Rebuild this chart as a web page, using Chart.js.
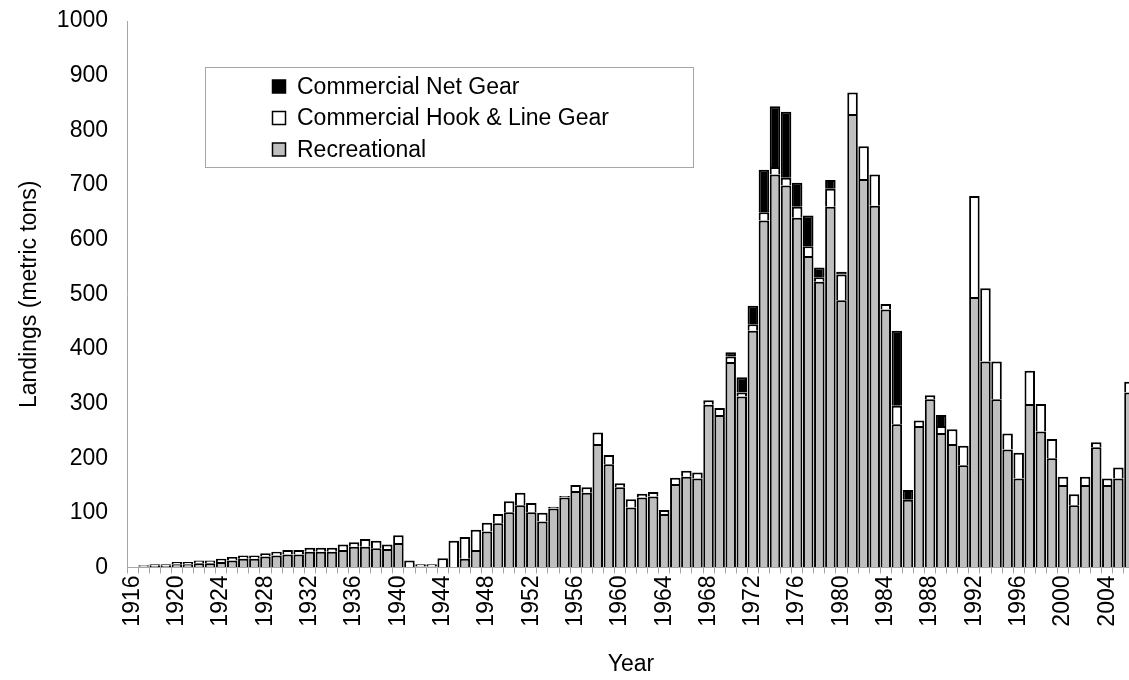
<!DOCTYPE html>
<html>
<head>
<meta charset="utf-8">
<script src="https://cdn.jsdelivr.net/npm/chart.js@4.4.1/dist/chart.umd.min.js"></script>
<style>
  html, body { margin: 0; padding: 0; background: #fff; overflow: hidden; }
  #wrap { width: 1129px; height: 680px; overflow: hidden; }
  canvas { display: block; }
</style>
</head>
<body>
<div id="wrap"><canvas id="landings" width="1135" height="680"></canvas></div>
<script>
// landings by year, metric tons
const years = [
  1916, 1917, 1918, 1919, 1920, 1921, 1922, 1923, 1924, 1925,
  1926, 1927, 1928, 1929, 1930, 1931, 1932, 1933, 1934, 1935,
  1936, 1937, 1938, 1939, 1940, 1941, 1942, 1943, 1944, 1945,
  1946, 1947, 1948, 1949, 1950, 1951, 1952, 1953, 1954, 1955,
  1956, 1957, 1958, 1959, 1960, 1961, 1962, 1963, 1964, 1965,
  1966, 1967, 1968, 1969, 1970, 1971, 1972, 1973, 1974, 1975,
  1976, 1977, 1978, 1979, 1980, 1981, 1982, 1983, 1984, 1985,
  1986, 1987, 1988, 1989, 1990, 1991, 1992, 1993, 1994, 1995,
  1996, 1997, 1998, 1999, 2000, 2001, 2002, 2003, 2004, 2005,
  2006
];

const recreational = [
  0, 2, 3, 3, 6, 6, 8, 8, 10, 13,
  16, 16, 20, 22, 24, 24, 29, 29, 29, 32,
  38, 38, 35, 34, 45, 0, 2, 2, 0, 0,
  16, 32, 66, 81, 101, 114, 101, 84, 108, 128,
  140, 137, 226, 189, 147, 110, 128, 130, 98, 153,
  166, 163, 298, 279, 376, 313, 433, 635, 719, 699,
  640, 570, 523, 660, 489, 830, 711, 662, 472, 262,
  124, 259, 308, 246, 226, 187, 495, 377, 308, 216,
  163, 299, 249, 200, 151, 114, 151, 220, 151, 163,
  320
];

const hookLine = [
  0, 2, 3, 3, 4, 4, 5, 5, 6, 6,
  6, 6, 6, 7, 8, 8, 7, 7, 7, 10,
  8, 14, 14, 8, 14, 13, 4, 4, 17, 49,
  40, 37, 16, 17, 20, 23, 17, 16, 3, 3,
  11, 10, 21, 17, 7, 15, 7, 8, 7, 11,
  11, 11, 8, 13, 10, 7, 12, 15, 14, 14,
  20, 18, 8, 33, 47, 39, 60, 57, 10, 34,
  0, 10, 7, 13, 27, 36, 185, 134, 69, 29,
  47, 61, 50, 35, 15, 20, 15, 9, 12, 20,
  20
];

const netGear = [
  0, 0, 0, 0, 0, 0, 0, 0, 0, 0,
  0, 0, 0, 0, 0, 0, 0, 0, 0, 0,
  0, 0, 0, 0, 0, 0, 0, 0, 0, 0,
  0, 0, 0, 0, 0, 0, 0, 0, 0, 0,
  0, 0, 0, 0, 0, 0, 0, 0, 0, 0,
  0, 0, 0, 0, 8, 28, 34, 78, 111, 121,
  44, 56, 18, 16, 5, 0, 0, 0, 0, 137,
  18, 0, 0, 20, 0, 0, 0, 0, 0, 0,
  0, 0, 0, 0, 0, 0, 0, 0, 0, 0,
  0
];

const tickYears = [1916, 1920, 1924, 1928, 1932, 1936, 1940, 1944, 1948, 1952,
  1956, 1960, 1964, 1968, 1972, 1976, 1980, 1984, 1988, 1992, 1996, 2000, 2004];

const FONT = "'Liberation Sans', Arial, sans-serif";

// legend box sitting inside the plot, like the original
const legendBox = {
  id: 'legendBox',
  afterDraw(chart) {
    const ctx = chart.ctx;
    ctx.save();
    ctx.fillStyle = '#fff';
    ctx.fillRect(205.5, 67.5, 488, 100);
    ctx.strokeStyle = '#a6a6a6';
    ctx.lineWidth = 1;
    ctx.strokeRect(205.5, 67.5, 488, 100);
    ctx.font = '23px ' + FONT;
    ctx.textBaseline = 'middle';
    const sets = chart.data.datasets.slice().reverse();
    sets.forEach((ds, i) => {
      const y = 86.5 + i * 31.5;
      ctx.fillStyle = ds.backgroundColor;
      ctx.fillRect(272.5, y - 6.5, 13, 13);
      ctx.strokeStyle = '#000';
      ctx.lineWidth = 1.5;
      ctx.strokeRect(272.5, y - 6.5, 13, 13);
      ctx.fillStyle = '#000';
      ctx.fillText(ds.label, 297, y + 1);
    });
    ctx.restore();
  }
};

new Chart(document.getElementById('landings'), {
  type: 'bar',
  data: {
    labels: years.map(String),
    datasets: [
      { label: 'Recreational', data: recreational, backgroundColor: '#bfbfbf' },
      { label: 'Commercial Hook & Line Gear', data: hookLine, backgroundColor: '#ffffff' },
      { label: 'Commercial Net Gear', data: netGear, backgroundColor: '#000000' }
    ]
  },
  options: {
    responsive: false,
    animation: false,
    devicePixelRatio: 1,
    layout: { padding: { top: 21, right: 0, bottom: 0, left: 0 } },
    datasets: {
      bar: {
        borderColor: '#000',
        borderWidth: 2,
        borderSkipped: 'start',
        barPercentage: 0.95,
        categoryPercentage: 1
      }
    },
    plugins: {
      legend: { display: false },
      tooltip: { enabled: false }
    },
    scales: {
      x: {
        stacked: true,
        grid: { drawOnChartArea: false, drawTicks: true, tickLength: 6, color: '#a6a6a6', offset: true },
        border: { color: '#a6a6a6', width: 1 },
        ticks: {
          autoSkip: false,
          minRotation: 90,
          maxRotation: 90,
          padding: 2,
          color: '#000',
          font: { family: FONT, size: 23 },
          callback: function (v) {
            const yr = Number(this.getLabelForValue(v));
            return tickYears.includes(yr) ? String(yr) : '';
          }
        },
        title: {
          display: true,
          text: 'Year',
          color: '#000',
          font: { family: FONT, size: 23 },
          padding: { top: 0, bottom: 2 }
        },
        afterFit(scale) {
          scale.height = 112.5;
          scale.paddingLeft = 0;
          scale.paddingRight = 0;
        }
      },
      y: {
        stacked: true,
        min: 0,
        max: 1000,
        grid: { drawOnChartArea: false, drawTicks: false },
        border: { color: '#a6a6a6', width: 1 },
        ticks: {
          stepSize: 100,
          padding: 19,
          color: '#000',
          font: { family: FONT, size: 23 },
          callback: v => String(v)
        },
        title: {
          display: true,
          text: 'Landings (metric tons)',
          color: '#000',
          font: { family: FONT, size: 23 },
          padding: { top: 16, bottom: 0 }
        },
        afterFit(scale) {
          scale.width = 127;
          scale.paddingTop = 0;
          scale.paddingBottom = 0;
        }
      }
    }
  },
  plugins: [legendBox]
});
</script>
</body>
</html>
